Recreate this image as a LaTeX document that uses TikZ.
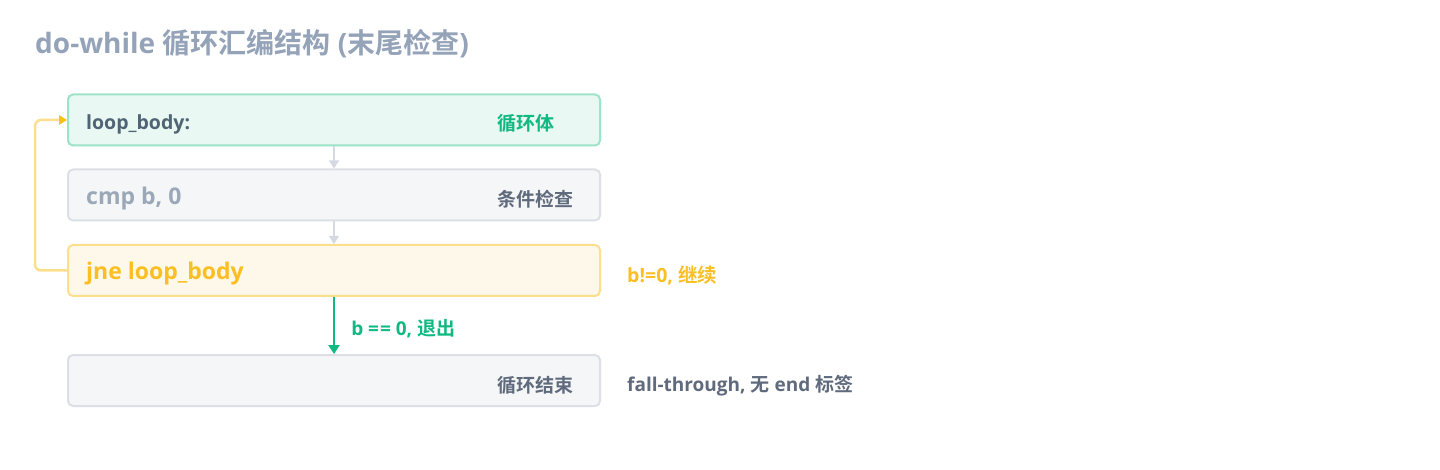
\documentclass[tikz,border=0pt]{standalone}
\usepackage{fontspec}
\setmainfont{Open Sans}
\newfontfamily\cjk{Noto Sans CJK SC}[BoldFont={Noto Sans CJK SC Bold}]
\usetikzlibrary{arrows.meta}
\definecolor{titlec}{HTML}{94A3B8}
\definecolor{grn}{HTML}{10B981}
\definecolor{grnfill}{HTML}{E9F8F2}
\definecolor{grnline}{HTML}{9DE3C8}
\definecolor{grayfill}{HTML}{F5F6F8}
\definecolor{grayline}{HTML}{DCDFE5}
\definecolor{amb}{HTML}{FBBF24}
\definecolor{ambfill}{HTML}{FEF8EA}
\definecolor{ambline}{HTML}{FCDF8C}
\definecolor{dark}{HTML}{5F6B7D}
\definecolor{code}{HTML}{4F6575}
\definecolor{cmpc}{HTML}{9AA8B8}
\definecolor{arrg}{HTML}{D5D9E2}
\newcommand{\zh}[1]{{\cjk\bfseries #1}}
\begin{document}
\begin{tikzpicture}[x=1pt,y=-1pt,
  box/.style={draw, line width=2pt, rounded corners=5pt, minimum width=532pt, minimum height=51pt, inner sep=0pt},
  txt/.style={anchor=west, inner sep=0pt, font=\bfseries},
  small/.style={arrg, line width=1.2pt, -{Triangle[length=8pt,width=10pt]}}]
\useasboundingbox (0,0) rectangle (1440,470);
\fill[white] (0,0) rectangle (1440,470);
\node[txt, text=titlec, font=\bfseries\fontsize{28}{32}\selectfont] (title) at (35,44) {do-while \zh{循环汇编结构} (\zh{末尾检查})};
\node[box, fill=grnfill, draw=grnline] (b1) at (334,120) {};
\node[box, fill=grayfill, draw=grayline] (b2) at (334,195) {};
\node[box, fill=ambfill, draw=ambline] (b3) at (334,270.5) {};
\node[box, fill=grayfill, draw=grayline] (b4) at (334,380.5) {};
\node[txt, text=code, font=\bfseries\fontsize{19.5}{22}\selectfont] (t1) at (86,124) {loop\_body:};
\node[txt, text=grn, font=\bfseries\fontsize{19}{20}\selectfont] (c1) at (497,123) {\zh{循环体}};
\node[txt, text=cmpc, font=\bfseries\fontsize{23}{26}\selectfont] (t2) at (86,199) {cmp b, 0};
\node[txt, text=dark, font=\bfseries\fontsize{19}{20}\selectfont] (c2) at (497,199) {\zh{条件检查}};
\node[txt, text=amb, font=\bfseries\fontsize{23}{26}\selectfont] (t3) at (86,274) {jne loop\_body};
\node[txt, text=dark, font=\bfseries\fontsize{19}{20}\selectfont] (c4) at (497,385) {\zh{循环结束}};
\node[txt, text=amb, font=\bfseries\fontsize{19.5}{22}\selectfont] (n3) at (627,275) {b!=0, \zh{继续}};
\node[txt, text=dark, font=\bfseries\fontsize{19}{22}\selectfont] (n4) at (627,386) {fall-through, \zh{无} end \zh{标签}};
\draw[small] (b1.south) -- (b2.north);
\draw[small] (b2.south) -- (b3.north);
\draw[grn, line width=2.5pt, -{Triangle[length=9pt,width=11pt]}] (b3.south) -- node[txt, text=grn, font=\bfseries\fontsize{19}{22}\selectfont, right=16pt, pos=0.5, yshift=-3pt] (lab) {b =\kern1pt= 0, \zh{退出}} (b4.north);
\coordinate (lp) at (35,0);
\draw[ambline, line width=2.5pt, rounded corners=6pt] (b3.west) -| (lp |- b1.west) -- ([xshift=-6pt]b1.west);
\draw[amb, line width=0pt, -{Triangle[length=8pt,width=10pt]}] ([xshift=-7pt]b1.west) -- (b1.west);
\end{tikzpicture}
\end{document}
